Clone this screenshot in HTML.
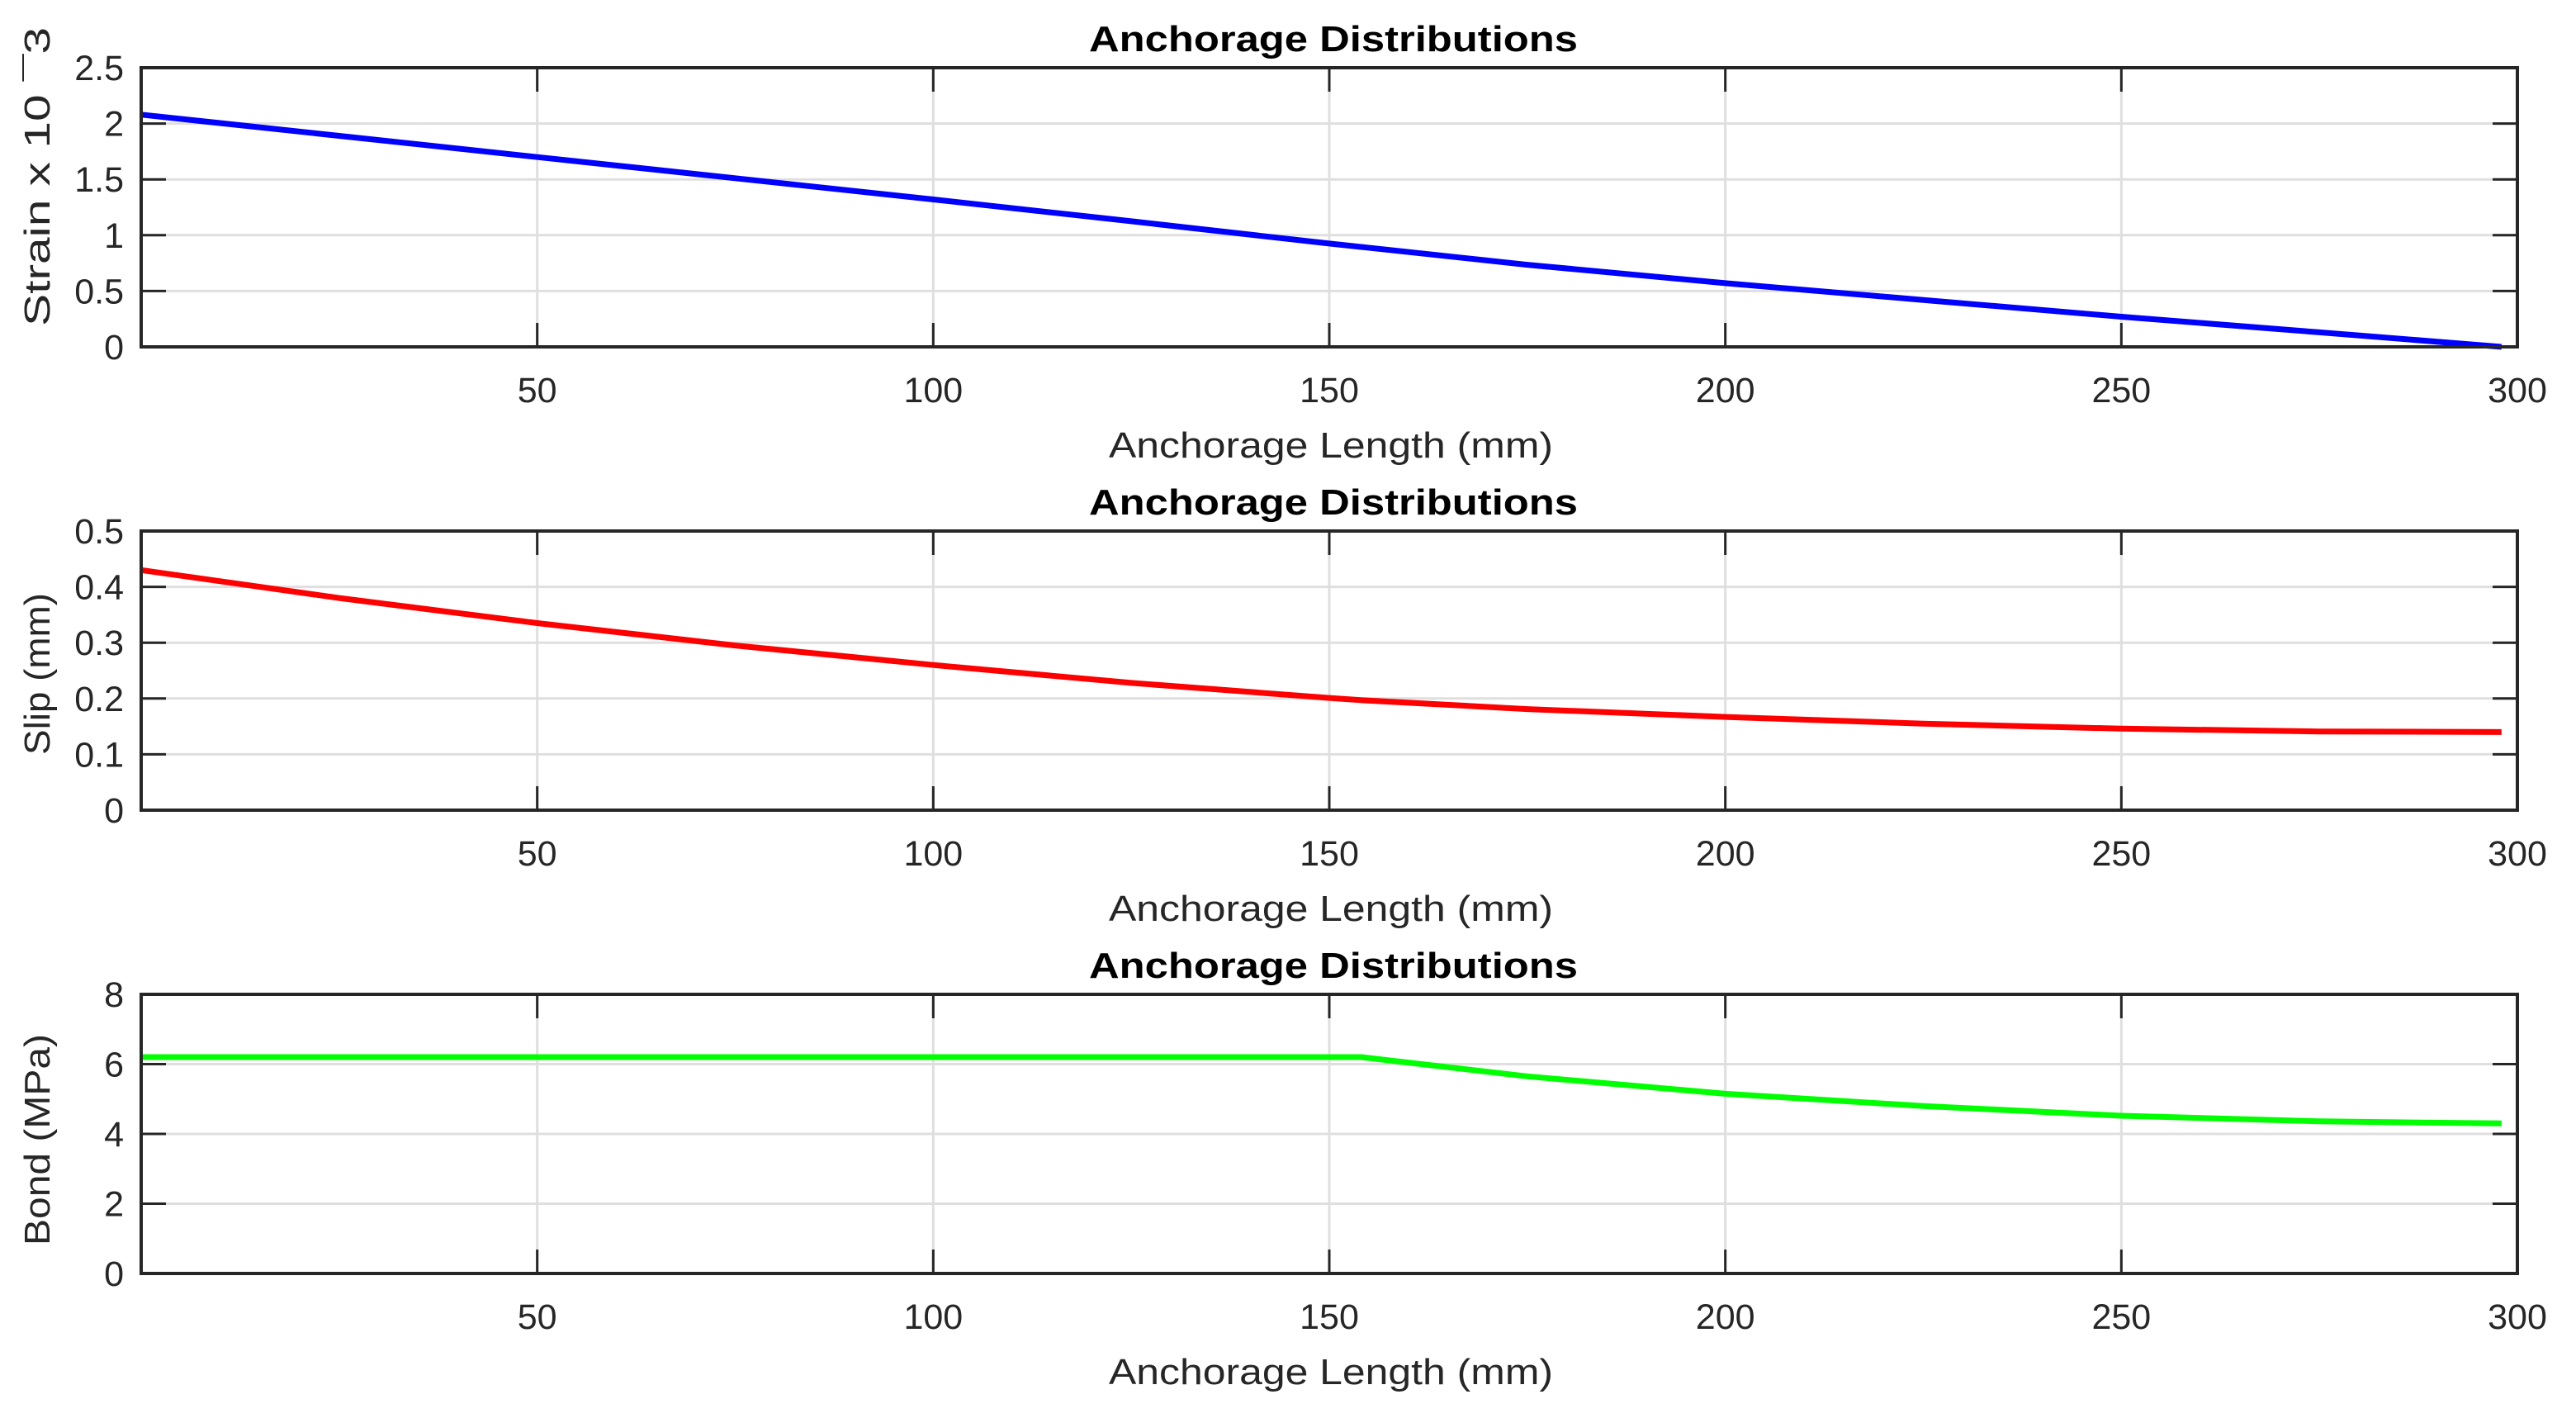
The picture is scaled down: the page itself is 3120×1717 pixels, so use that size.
<!DOCTYPE html>
<html><head><meta charset="utf-8">
<style>
html,body{margin:0;padding:0;background:#fff;}
svg{display:block;font-family:"Liberation Sans",Arial,sans-serif;}
</style></head>
<body>
<svg id="chart" width="3120" height="1717" viewBox="0 0 3120 1717" xmlns="http://www.w3.org/2000/svg">
<rect width="3120" height="1717" fill="#fff"/>
</svg>
<script>
const xValues = [0, 25, 50, 75, 100, 125, 150, 154, 175, 200, 225, 250, 275, 298];
const strainValues = [2.08, 1.89, 1.70, 1.51, 1.32, 1.125, 0.925, 0.895, 0.735, 0.57, 0.42, 0.27, 0.13, 0.0];
const slipValues = [0.43, 0.38, 0.335, 0.295, 0.26, 0.228, 0.201, 0.197, 0.181, 0.167, 0.155, 0.146, 0.141, 0.140];
const bondValues = [6.2, 6.2, 6.2, 6.2, 6.2, 6.2, 6.2, 6.2, 5.65, 5.15, 4.8, 4.52, 4.36, 4.3];
const xTicks = [50, 100, 150, 200, 250, 300];
const strainTicks = [0, 0.5, 1, 1.5, 2, 2.5];
const slipTicks = [0, 0.1, 0.2, 0.3, 0.4, 0.5];
const bondTicks = [0, 2, 4, 6, 8];

const svg = document.getElementById('chart');
const NS = 'http://www.w3.org/2000/svg';
const L = 171, R = 3049, H = 338;
function mk(tag, attrs, parent) {
  const e = document.createElementNS(NS, tag);
  for (const k in attrs) e.setAttribute(k, attrs[k]);
  (parent || svg).appendChild(e);
  return e;
}
const xScale = v => L + (v - 0) / 300 * (R - L);

const panels = [
  {top: 82, vals: strainValues, ticks: strainTicks, ymax: 2.5, color: '#0000ff', ylabel: 'Strain x 10 \u00AF3', key: 'strain', ylw: 362, ycy: 214},
  {top: 643, vals: slipValues, ticks: slipTicks, ymax: 0.5, color: '#ff0000', ylabel: 'Slip (mm)', key: 'slip', ylw: 196, ycy: 816},
  {top: 1204, vals: bondValues, ticks: bondTicks, ymax: 8, color: '#00ff00', ylabel: 'Bond (MPa)', key: 'bond', ylw: 256, ycy: 1380}
];

panels.forEach(p => {
  const T = p.top, B = p.top + H;
  const yScale = v => B - v / p.ymax * H;
  const g = mk('g', {});
  
  
  xTicks.forEach(t => {
    const x = xScale(t);
    const gl = mk('line', {x1: x, x2: x, y1: T, y2: B, stroke: '#dfdfdf', 'stroke-width': 3}, g);
    
    
  });
  p.ticks.forEach(t => {
    const y = yScale(t);
    const gl = mk('line', {x1: L, x2: R, y1: y, y2: y, stroke: '#dfdfdf', 'stroke-width': 3}, g);
    
    
  });
  const pts = xValues.map((x, i) => xScale(x).toFixed(1) + ',' + yScale(p.vals[i]).toFixed(1)).join(' ');
  const line = mk('polyline', {points: pts, fill: 'none', stroke: p.color, 'stroke-width': 7, 'stroke-linejoin': 'round'}, g);
  
  
  xTicks.forEach(t => {
    const x = xScale(t);
    mk('line', {x1: x, x2: x, y1: B, y2: B - 29, stroke: '#262626', 'stroke-width': 3}, g);
    mk('line', {x1: x, x2: x, y1: T, y2: T + 29, stroke: '#262626', 'stroke-width': 3}, g);
    const tl = mk('text', {x: x, y: B + 67, 'font-size': 43, fill: '#262626', 'text-anchor': 'middle'}, g);
    tl.textContent = t;
    
    
  });
  p.ticks.forEach(t => {
    const y = yScale(t);
    mk('line', {x1: L, x2: L + 30, y1: y, y2: y, stroke: '#262626', 'stroke-width': 3}, g);
    mk('line', {x1: R, x2: R - 30, y1: y, y2: y, stroke: '#262626', 'stroke-width': 3}, g);
    const tl = mk('text', {x: 150, y: y + 15, 'font-size': 43, fill: '#262626', 'text-anchor': 'end'}, g);
    tl.textContent = t;
    
    
  });
  const box = mk('rect', {x: L, y: T, width: R - L, height: H, fill: 'none', stroke: '#262626', 'stroke-width': 4}, g);
  
  
  const title = mk('text', {x: (L + R) / 2 + 5, y: T - 20, 'font-size': 44, 'font-weight': 'bold', fill: '#000', 'text-anchor': 'middle', textLength: 592, lengthAdjust: 'spacingAndGlyphs'}, g);
  title.textContent = 'Anchorage Distributions';
  
  
  const xl = mk('text', {x: (L + R) / 2 + 2, y: B + 134, 'font-size': 44, fill: '#262626', 'text-anchor': 'middle', textLength: 538, lengthAdjust: 'spacingAndGlyphs'}, g);
  xl.textContent = 'Anchorage Length (mm)';
  
  
  const yl = mk('text', {x: 0, y: 0, 'font-size': 44, fill: '#262626', 'text-anchor': 'middle', transform: 'translate(60,' + p.ycy + ') rotate(-90)', textLength: p.ylw, lengthAdjust: 'spacingAndGlyphs'}, g);
  yl.textContent = p.ylabel;
  
  
});
</script>
</body></html>
